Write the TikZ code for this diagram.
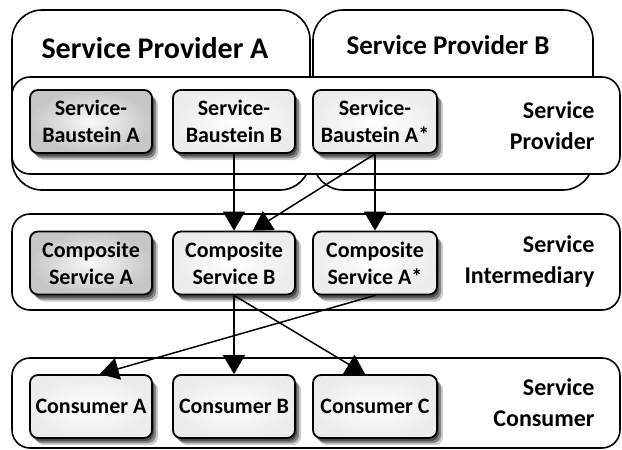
\documentclass[tikz,border=0pt]{standalone}
\usepackage{fontspec}
\setmainfont{Carlito}[BoldFont={Carlito Bold}]
\usetikzlibrary{arrows.meta}
\usetikzlibrary{shadows}

\begin{document}
\begin{tikzpicture}[x=1pt,y=-1pt,line cap=round,font=\bfseries] %% tikz
	\tikzstyle{anbieter}=[draw,line width=1.6pt,rounded corners=30pt,fill=white];
	\tikzstyle{schicht}=[draw,line width=1.6pt,rounded corners=18pt,fill=white];
	\tikzstyle{kasten}=[draw,line width=1.8pt,rounded corners=8pt,minimum width=122pt,minimum height=63pt,
		inner sep=1pt,align=center,font=\bfseries\fontsize{22pt}{27pt}\selectfont,
		inner color=white,outer color=gray!15,
		drop shadow={shadow xshift=6pt,shadow yshift=-7pt,opacity=.2,fill=black},
		drop shadow={shadow xshift=4pt,shadow yshift=-5pt,opacity=.35,fill=black},
		drop shadow={shadow xshift=2pt,shadow yshift=-3pt,opacity=.4,fill=black}];
	\tikzstyle{grau}=[inner color=gray!5,outer color=gray!45];
	\tikzstyle{rechts}=[anchor=east,align=right,font=\bfseries\fontsize{24pt}{31pt}\selectfont];
	\tikzstyle{pfeil}=[line width=1.5pt,-{Triangle[length=19pt,width=22pt]}];
	\useasboundingbox (0,0) rectangle (622,450);
	%% provider
	\draw[anbieter] (12,10) rectangle (310,190);
	\draw[anbieter] (313,10) rectangle (593,190);
	\node[font=\bfseries\fontsize{30pt}{36pt}\selectfont] (spa) at (155,48) {Service Provider A};
	\node[font=\bfseries\fontsize{27pt}{32pt}\selectfont] (spb) at (448,45) {Service Provider B};
	%% layers
	\draw[schicht] (12,77) rectangle (620,174);
	\draw[schicht] (12,214) rectangle (620,310);
	\draw[schicht] (12,358) rectangle (620,448);
	\node[rechts] (lp) at (598,126) {Service\\Provider};
	\node[rechts] (li) at (598,261) {Service\\Intermediary};
	\node[rechts] (lc) at (598,403) {Service\\Consumer};
	%% boxes
	\node[kasten,grau] (ba) at (91,121.5) {Service-\\Baustein A};
	\node[kasten] (bb) at (234,121.5) {Service-\\Baustein B};
	\node[kasten,minimum width=124pt] (bas) at (375,121.5) {Service-\\Baustein A*};
	\node[kasten,grau] (ca) at (91,263) {Composite\\Service A};
	\node[kasten] (cb) at (234,263) {Composite\\Service B};
	\node[kasten,minimum width=124pt] (cas) at (375,263) {Composite\\Service A*};
	\node[kasten] (ka) at (91,406.5) {Consumer A};
	\node[kasten] (kb) at (234,406.5) {Consumer B};
	\node[kasten,minimum width=124pt] (kc) at (375,406.5) {Consumer C};
	%% arrows
	\draw[pfeil] (bb.south) -- (cb.north);
	\draw[pfeil] (bas.south) -- (cb.60);
	\draw[pfeil] (bas.south) -- (cas.north);
	\draw[pfeil] (cb.south) -- (kb.north);
	\draw[pfeil] (cb.south) -- (kc.107);
	\draw[pfeil] (cas.south) -- (ka.75);
\end{tikzpicture}
\end{document}
